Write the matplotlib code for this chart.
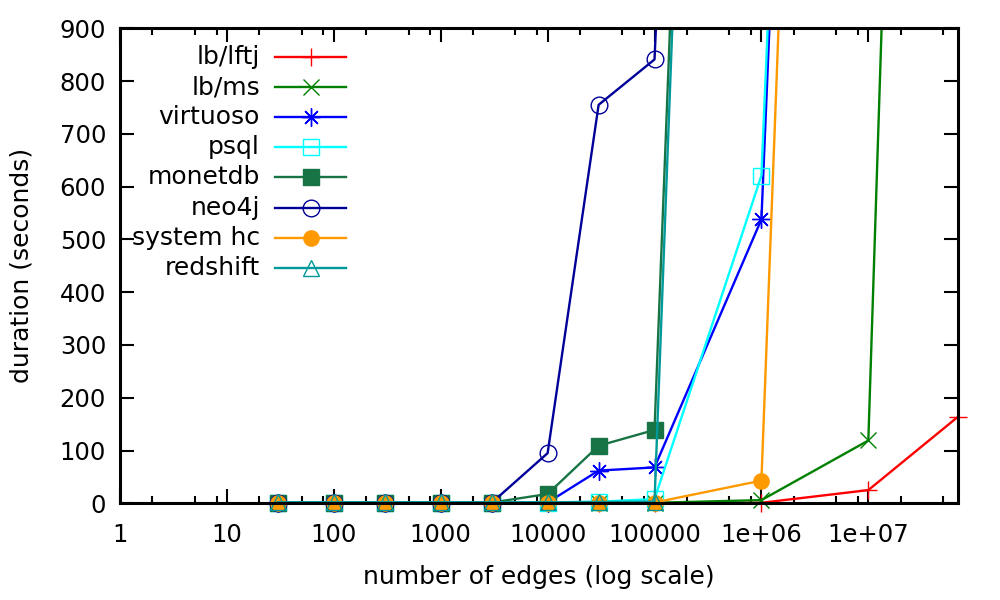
import numpy as np
import matplotlib
matplotlib.use("Agg")
import matplotlib.pyplot as plt
from matplotlib.lines import Line2D

# ---- data ----
edges = [30, 100, 300, 1000, 3000, 10000, 30000, 100000, 1000000, 10000000, 68993773]
series_names = ["lb/lftj", "lb/ms", "virtuoso", "psql", "monetdb", "neo4j", "system hc", "redshift"]
lb_lftj   = [0.1, 0.1, 0.1, 0.2, 0.2, 0.3, 0.4, 0.6, 1.0, 25, 164]
lb_ms     = [0.1, 0.1, 0.1, 0.2, 0.3, 0.4, 0.6, 1.0, 6.0, 119, 5400]
virtuoso  = [0.5, 0.5, 0.5, 0.6, 0.8, 1.5, 62, 68, 538, 5400, 5400]
psql      = [0.5, 0.5, 0.5, 0.6, 0.8, 1.5, 3, 8, 621, 5400, 5400]
monetdb   = [1.0, 1.0, 1.0, 1.2, 1.5, 17.6, 109, 139, 5400, 5400, 5400]
neo4j     = [0.5, 0.5, 0.5, 0.7, 1.0, 95, 755, 841, 5400, 5400, 5400]
system_hc = [0.2, 0.2, 0.2, 0.3, 0.4, 0.6, 0.8, 1.5, 43, 5400, 5400]
redshift  = [2.0, 2.0, 2.0, 2.0, 2.0, 2.0, 2.5, 3.0, 5400, 5400, 5400]
all_values = [lb_lftj, lb_ms, virtuoso, psql, monetdb, neo4j, system_hc, redshift]

xtick_values = [1, 10, 100, 1000, 10000, 100000, 1000000, 10000000]
xtick_labels = ["1", "10", "100", "1000", "10000", "100000", "1e+06", "1e+07"]
ytick_values = [0, 100, 200, 300, 400, 500, 600, 700, 800, 900]

# ---- styles ----
colors = ["#ff0000", "#008000", "#0000ff", "#00ffff", "#187445", "#000099", "#ff9900", "#00999a"]
markers = ["+", "x", (8, 2, 0), "s", "s", "o", "o", "^"]
filled = [True, True, True, False, True, False, True, False]
msizes = [13, 12, 13, 11, 11, 12, 11, 12]

plt.rcParams["font.family"] = ["DejaVu Sans"]
FS = 17.5
FSL = 18

fig = plt.figure(figsize=(10, 6), dpi=100)
ax = fig.add_axes([0.12, 1 - 503.3 / 600, 0.958 - 0.12, (503.3 - 28.3) / 600])

ymax = 900
for i, (name, vals) in enumerate(zip(series_names, all_values)):
    x = np.array(edges, dtype=float)
    y = np.array(vals, dtype=float)
    c = colors[i]
    ax.plot(x, y, color=c, lw=1.7, zorder=2 + i * 0.1, clip_on=True)
    m = y <= ymax
    mfc = c if filled[i] else "none"
    ax.plot(x[m], y[m], linestyle="none", marker=markers[i], markersize=msizes[i],
            markerfacecolor=mfc, markeredgecolor=c, markeredgewidth=1.0,
            clip_on=False, zorder=2 + i * 0.1 + 0.05)

ax.set_xscale("log")
ax.set_xlim(1, edges[-1])
ax.set_ylim(0, ymax)
ax.set_xticks(xtick_values)
ax.set_xticklabels(xtick_labels)
minor = [d * k for d in xtick_values for k in (2, 5, 8) if d * k < edges[-1]]
ax.set_xticks(minor, minor=True)
ax.set_xticklabels([], minor=True)
ax.set_yticks(ytick_values)
ax.set_yticklabels([str(v) for v in ytick_values])

ax.tick_params(axis="both", which="major", direction="in", length=10, width=1.5,
               top=True, right=True, labelsize=FS, color="black")
ax.tick_params(axis="x", which="major", pad=14)
ax.tick_params(axis="y", which="major", pad=10)
ax.tick_params(axis="x", which="minor", direction="in", length=5, width=1.5, top=True)
ax.tick_params(axis="y", which="minor", left=False, right=False)
for s in ax.spines.values():
    s.set_linewidth(2.2)
    s.set_zorder(10)

ax.set_xlabel("number of edges (log scale)", fontsize=FSL, labelpad=13)
ax.set_ylabel("duration (seconds)", fontsize=FSL, labelpad=19)

# ---- legend (gnuplot style: right-aligned text, sample to the right) ----
for i, name in enumerate(series_names):
    yy = 1 - (57 + i * 30.1) / 600
    c = colors[i]
    fig.text(0.260, yy, name, ha="right", va="center", fontsize=FSL)
    fig.add_artist(Line2D([0.275, 0.346], [yy, yy], transform=fig.transFigure,
                          color=c, lw=1.7))
    mfc = c if filled[i] else "none"
    fig.add_artist(Line2D([0.3105], [yy], transform=fig.transFigure, linestyle="none",
                          marker=markers[i], markersize=msizes[i], markerfacecolor=mfc,
                          markeredgecolor=c, markeredgewidth=1.0))

fig.savefig("out.png", dpi=100)
